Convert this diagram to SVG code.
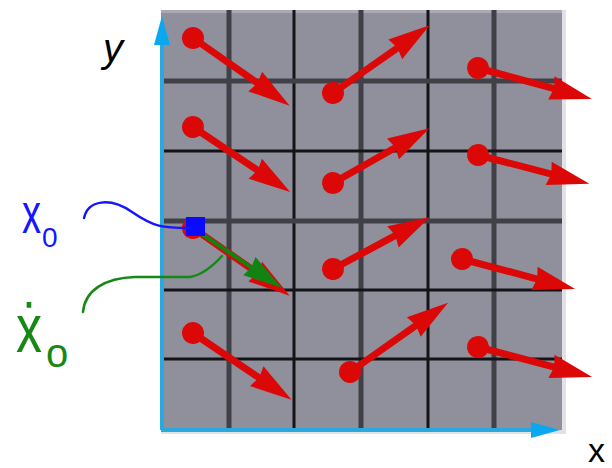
<svg xmlns="http://www.w3.org/2000/svg" width="612" height="468" viewBox="0 0 612 468">
<style>
.gl{stroke:#404046;stroke-width:5}
.bl{stroke:#141416;stroke-width:3}
.red{fill:#dc0808}
.ax{stroke:#2aa8e0;stroke-width:4;fill:none}
.axh{fill:#0aa8f0}
.lbl{font-family:"Liberation Sans",sans-serif}
</style>
<rect width="612" height="468" fill="#ffffff"/>
<g id="plane">
<rect x="562" y="10" width="4" height="424" fill="#e2e2e6"/>
<rect x="161" y="430" width="405" height="4" fill="#e2e2e6"/>
<rect x="161" y="10" width="401" height="420" fill="#8f909c"/>
<rect x="161" y="10" width="401" height="3" fill="#a9aab3"/>
<line class="gl" x1="229" y1="10" x2="229" y2="430"/>
<line class="bl" x1="294" y1="10" x2="294" y2="430"/>
<line class="gl" x1="361" y1="10" x2="361" y2="430"/>
<line class="bl" x1="428" y1="10" x2="428" y2="430"/>
<line class="gl" x1="494" y1="10" x2="494" y2="430"/>
<line class="gl" x1="161" y1="81" x2="562" y2="81"/>
<line class="bl" x1="161" y1="151" x2="562" y2="151"/>
<line class="gl" x1="161" y1="221" x2="562" y2="221"/>
<line class="bl" x1="161" y1="290" x2="562" y2="290" stroke="#222226"/>
<line class="bl" x1="161" y1="359" x2="562" y2="359" stroke="#222226"/>
</g>
<g id="axes">
<line class="ax" x1="162" y1="430" x2="162" y2="30"/>
<polygon class="axh" points="162,16 170,45 154,45"/>
<line class="ax" x1="161" y1="430" x2="540" y2="430"/>
<polygon class="axh" points="560,430 531,422 531,438"/>
</g>
<g id="field" class="red">
<g id="v1" transform="translate(193,38) rotate(35)"><circle r="11"/><path d="M0,-3.5 L78,-3.5 L76,-12 L118,0 L76,12 L78,3.5 L0,3.5 Z"/></g>
<g id="v2" transform="translate(193,127) rotate(33.8)"><circle r="11"/><path d="M0,-3.5 L77,-3.5 L75,-12 L117,0 L75,12 L77,3.5 L0,3.5 Z"/></g>
<g id="v3" transform="translate(193,228) rotate(35)"><circle r="11"/><path d="M0,-3.5 L78,-3.5 L76,-12 L118,0 L76,12 L78,3.5 L0,3.5 Z"/></g>
<g id="v4" transform="translate(193,333) rotate(34.1)"><circle r="11"/><path d="M0,-3.5 L79,-3.5 L77,-12 L119,0 L77,12 L79,3.5 L0,3.5 Z"/></g>
<g id="v5" transform="translate(333,93) rotate(-35)"><circle r="11"/><path d="M0,-3.5 L78,-3.5 L76,-12 L118,0 L76,12 L78,3.5 L0,3.5 Z"/></g>
<g id="v6" transform="translate(333,183) rotate(-29.6)"><circle r="11"/><path d="M0,-3.5 L71,-3.5 L69,-12 L111,0 L69,12 L71,3.5 L0,3.5 Z"/></g>
<g id="v7" transform="translate(333,269) rotate(-28.2)"><circle r="11"/><path d="M0,-3.5 L70,-3.5 L68,-12 L110,0 L68,12 L70,3.5 L0,3.5 Z"/></g>
<g id="v8" transform="translate(350,372) rotate(-35.2)"><circle r="11"/><path d="M0,-3.5 L80,-3.5 L78,-12 L120,0 L78,12 L80,3.5 L0,3.5 Z"/></g>
<g id="v9" transform="translate(478,68) rotate(15.2)"><circle r="11"/><path d="M0,-3.5 L78,-3.5 L76,-12 L118,0 L76,12 L78,3.5 L0,3.5 Z"/></g>
<g id="v10" transform="translate(478,155) rotate(14.5)"><circle r="11"/><path d="M0,-3.5 L75,-3.5 L73,-12 L115,0 L73,12 L75,3.5 L0,3.5 Z"/></g>
<g id="v11" transform="translate(462,259) rotate(14.9)"><circle r="11"/><path d="M0,-3.5 L77,-3.5 L75,-12 L117,0 L75,12 L77,3.5 L0,3.5 Z"/></g>
<g id="v12" transform="translate(478,347) rotate(14.7)"><circle r="11"/><path d="M0,-3.5 L78,-3.5 L76,-12 L118,0 L76,12 L78,3.5 L0,3.5 Z"/></g>
</g>
<g id="velocity" transform="translate(193,228) rotate(34)" fill="#128312">
<path d="M0,-2 L70,-2 L68,-11 L107,0 L68,11 L70,2 L0,2 Z"/>
</g>
<g id="point"><rect x="186" y="217" width="19" height="19" fill="#0a0aff"/></g>
<g id="connectors" fill="none" stroke-linecap="round">
<path d="M84,218 C88,200 110,197 132,212 S162,228 190,228" stroke="#1515ff" stroke-width="2.5"/>
<path d="M83,312 C85,290 105,278 135,277 L190,277 C202,275 212,267 222,256" stroke="#168816" stroke-width="2.5"/>
</g>
<g id="labels" class="lbl">
<text x="103" y="62" font-size="40" font-style="italic" fill="#000">y</text>
<text x="588" y="462" font-size="34" fill="#000">x</text>
<text transform="translate(22,233) scale(1,1.5)" font-size="38" fill="#1515ff">x</text>
<text x="42" y="247" font-size="28" fill="#1515ff">0</text>
<text transform="translate(16,352) scale(1,1.3)" font-size="52" fill="#168816">ẋ</text>
<text x="46" y="367" font-size="40" fill="#168816">o</text>
</g>
</svg>
